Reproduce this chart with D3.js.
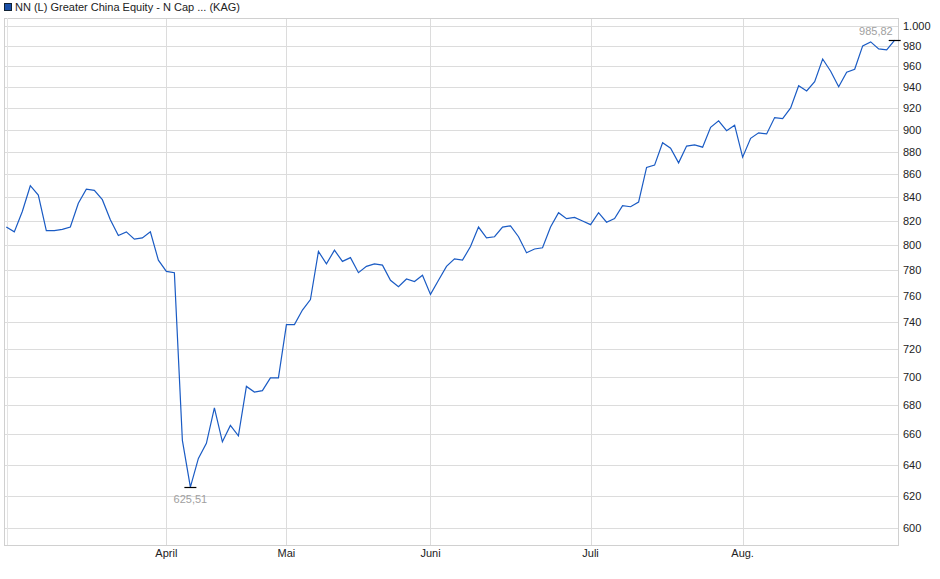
<!DOCTYPE html>
<html>
<head>
<meta charset="utf-8">
<script src="https://cdn.jsdelivr.net/npm/d3@7"></script>
<style>
  body { margin: 0; background: #fff; }
  text { font-family: "Liberation Sans", Arial, sans-serif; }
</style>
</head>
<body>
<svg id="chart" width="940" height="579"></svg>
<script>
// Daily prices (trading-day index 0..111)
const prices = [
  815, 811, 828, 850, 842, 812, 812, 813, 815, 835,
  847, 846, 838, 821, 808, 811, 805, 806, 811, 788,
  779, 778, 656, 625.51, 644, 654, 678, 655, 666, 659,
  693, 689, 690, 699, 699, 738, 738, 749, 757, 795,
  785, 796, 787, 790, 778, 783, 785, 784, 772, 767,
  773, 771, 776, 761, 772, 783, 789, 788, 799, 815,
  806, 807, 815, 816, 807, 794, 797, 798, 815, 827,
  822, 823, 820, 817, 827, 819, 822, 833, 832, 836,
  866, 868, 888, 883, 870, 885, 886, 884, 902, 908,
  899, 904, 875, 892, 897, 896, 911, 910, 920, 941,
  936, 945, 967, 955, 940, 954, 957, 980, 984, 977,
  976, 985.82
];
const monthLabels = ["April", "Mai", "Juni", "Juli", "Aug."];
const monthIndex = [20, 35, 53, 73, 92];
const yTicks = d3.range(600, 1001, 20);
const title = "NN (L) Greater China Equity - N Cap ... (KAG)";

const plot = {left: 4, right: 898, top: 18, bottom: 545};
const svg = d3.select("#chart");

const x = d3.scaleLinear().domain([0, prices.length - 1]).range([6.3, 894.7]);
const y = d3.scaleLog().domain([600, 1000]).range([528, 26]);
const fmt = d3.formatLocale({decimal: ",", thousands: ".", grouping: [3], currency: ["", "€"]});
const fmtTick = fmt.format(",d");
const fmtVal = fmt.format(",.2f");

// Grid
svg.append("g").selectAll("line").data(yTicks).enter().append("line")
    .attr("x1", plot.left).attr("x2", plot.right)
    .attr("y1", d => Math.round(y(d)) + 0.5).attr("y2", d => Math.round(y(d)) + 0.5)
    .attr("stroke", "#dcdcdc");
svg.append("g").selectAll("line").data(monthIndex).enter().append("line")
    .attr("x1", d => Math.round(x(d)) + 0.5).attr("x2", d => Math.round(x(d)) + 0.5)
    .attr("y1", plot.top).attr("y2", plot.bottom)
    .attr("stroke", "#dcdcdc");

// Frame
svg.append("rect")
    .attr("x", plot.left + 0.5).attr("y", plot.top + 0.5)
    .attr("width", plot.right - plot.left).attr("height", plot.bottom - plot.top)
    .attr("fill", "none").attr("stroke", "#d0d0d0");
svg.append("line").attr("x1", 7.5).attr("x2", 7.5).attr("y1", plot.top).attr("y2", plot.bottom)
    .attr("stroke", "#e4e4e4");

// Right axis labels
svg.append("g").selectAll("text").data(yTicks).enter().append("text")
    .attr("x", 903).attr("y", d => y(d) + 4)
    .attr("font-size", 11).attr("fill", "#222")
    .text(d => fmtTick(d));

// Month labels
svg.append("g").selectAll("text").data(monthIndex).enter().append("text")
    .attr("x", d => x(d)).attr("y", 557)
    .attr("text-anchor", "middle").attr("font-size", 11).attr("fill", "#222")
    .text((d, i) => monthLabels[i]);

// Price line
svg.append("path").datum(prices)
    .attr("fill", "none").attr("stroke", "#1a5bc4").attr("stroke-width", 1.2)
    .attr("d", d3.line().x((d, i) => x(i)).y(d => y(d)));

// Min / max markers
const iMax = d3.maxIndex(prices), iMin = d3.minIndex(prices);
[[iMax, -6], [iMin, 15]].forEach(([i, dy]) => {
    const px = x(i), py = Math.round(y(prices[i])) + 0.5;
    svg.append("line").attr("x1", px - 6).attr("x2", px + 6).attr("y1", py).attr("y2", py)
        .attr("stroke", "#000").attr("stroke-width", 1.2);
    svg.append("text")
        .attr("x", i === iMax ? px - 2 : px).attr("y", py + dy)
        .attr("text-anchor", i === iMax ? "end" : "middle")
        .attr("font-size", 11).attr("fill", "#a0a0a0")
        .text(fmtVal(prices[i]));
});

// Legend
svg.append("rect").attr("x", 4.5).attr("y", 3.5).attr("width", 7).attr("height", 7)
    .attr("fill", "#1a4fa8").attr("stroke", "#123");
svg.append("text").attr("x", 15).attr("y", 11).attr("font-size", 11).attr("fill", "#222")
    .text(title);
</script>
</body>
</html>
